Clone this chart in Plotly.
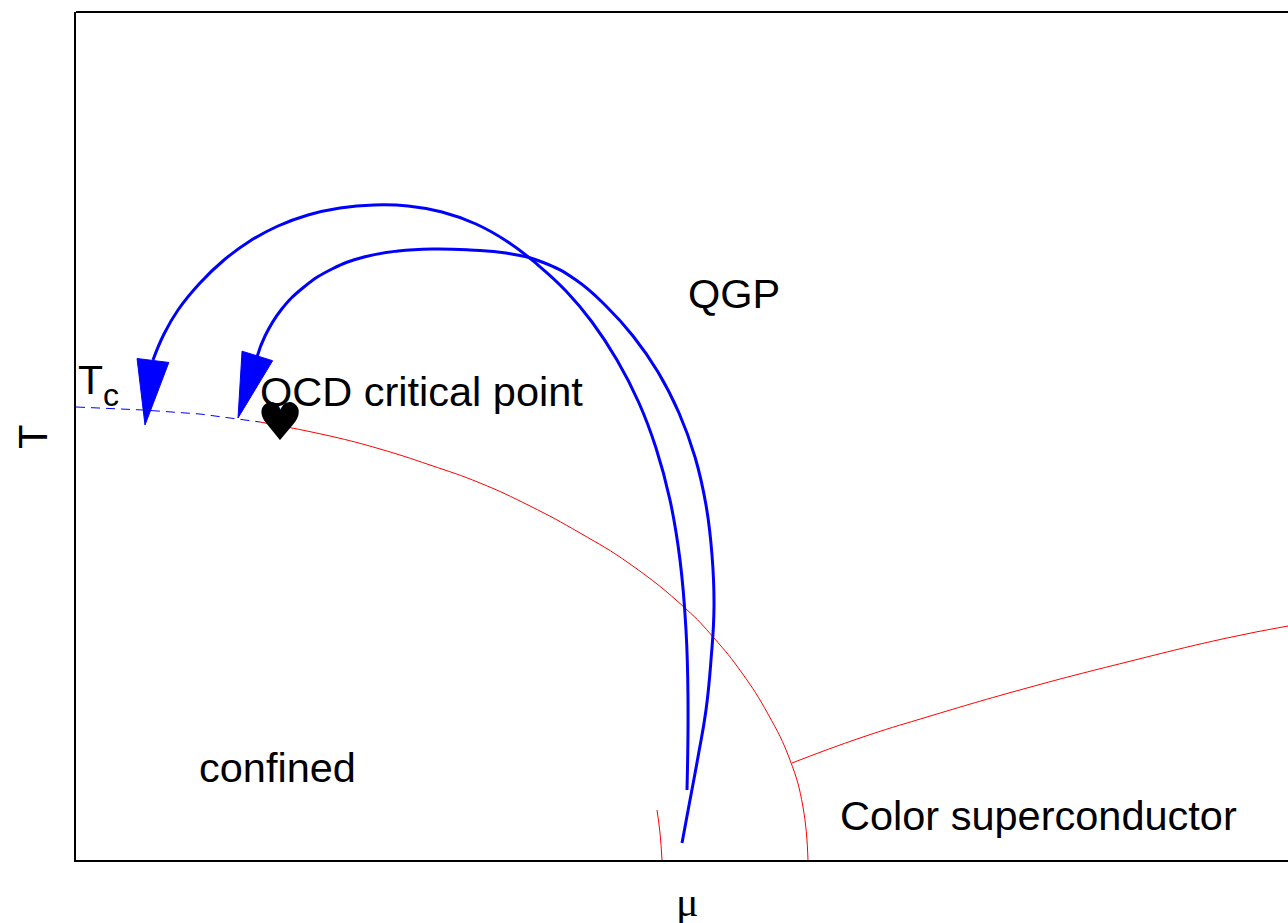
import numpy as np
import plotly.graph_objects as go

# Schematic QCD phase diagram, coordinates in arbitrary units (mu across, T up)
MU_MAX, T_MAX = 1212, 848

# Crossover line (dashed) from T_c on the T axis to the critical point
crossover_mu = [0, 67, 124, 162, 184]
crossover_T = [453, 450, 446, 441, 438]

# First-order hadron/QGP boundary from the critical point down to T = 0
boundary_mu = [184, 254, 304, 354, 404, 454, 504, 554, 609, 638, 666, 692, 714, 727, 732]
boundary_T = [438, 424, 411, 395, 377, 354, 327, 296, 252, 222, 187, 146, 100, 53, 0]

# QGP / color-superconductor boundary
csc_mu = [716, 784, 851, 951, 1051, 1151, 1212]
csc_T = [97, 122, 143, 172, 198, 222, 234]

# Short nuclear-matter segment near T = 0
nuclear_mu = [581, 584, 586]
nuclear_T = [50, 27, 0]

# Two trajectories (start at high mu, arrow toward the T axis)
traj_a_mu = [611, 612, 610, 604, 594, 580, 563, 541, 516, 490, 462, 432, 400, 366, 332,
             298, 264, 232, 202, 174, 148, 124, 102, 88, 77]
traj_a_T = [70, 160, 230, 300, 360, 412, 457, 500, 538, 569, 595, 618, 636, 648, 654,
            655, 652, 645, 634, 619, 600, 577, 550, 526, 500]
traj_a_tip = (69, 435)

traj_b_mu = [606, 614, 622, 630, 635, 638, 636, 630, 619, 603, 582, 557, 530, 500, 466,
             430, 394, 358, 322, 288, 256, 228, 205, 189, 181]
traj_b_T = [17, 60, 103, 150, 200, 253, 305, 355, 403, 447, 488, 524, 554, 580, 598,
            607, 610, 611, 609, 603, 591, 573, 550, 524, 503]
traj_b_tip = (162, 442)

critical_point = (204, 433)

BLUE = "#0000ff"
RED = "#ff0000"
TEXT_FONT = "Liberation Sans, Arial, Helvetica, sans-serif"


def arrow_head(mu, T, tip, length=65.0, half_width=16.0):
    """Filled triangle pointing from the end of a trajectory toward its tip."""
    tx, ty = tip
    d = np.array([tx - mu[-1], ty - T[-1]], dtype=float)
    d /= np.hypot(*d)
    base = np.array([tx, ty]) - length * d
    perp = np.array([-d[1], d[0]]) * half_width
    p1, p2 = base + perp, base - perp
    return [p1[0], tx, p2[0], p1[0]], [p1[1], ty, p2[1], p1[1]]


fig = go.Figure()

fig.add_trace(go.Scatter(x=crossover_mu, y=crossover_T, mode="lines",
                         line=dict(color=BLUE, width=1, dash="9px,6px")))
for mu, T in [(boundary_mu, boundary_T), (csc_mu, csc_T), (nuclear_mu, nuclear_T)]:
    fig.add_trace(go.Scatter(x=mu, y=T, mode="lines",
                             line=dict(color=RED, width=1, shape="spline", smoothing=1.3)))

for mu, T, tip in [(traj_a_mu, traj_a_T, traj_a_tip), (traj_b_mu, traj_b_T, traj_b_tip)]:
    fig.add_trace(go.Scatter(x=mu, y=T, mode="lines",
                             line=dict(color=BLUE, width=3, shape="spline", smoothing=1.3)))
    hx, hy = arrow_head(mu, T, tip)
    fig.add_trace(go.Scatter(x=hx, y=hy, mode="lines", fill="toself",
                             fillcolor=BLUE, line=dict(color=BLUE, width=1)))

fig.add_trace(go.Scatter(x=[critical_point[0]], y=[critical_point[1]], mode="text",
                         text=["\u2665"], textposition="middle center",
                         textfont=dict(family="DejaVu Sans", size=52, color="black")))

labels = [
    ("QCD critical point", 182, 469),
    ("QGP", 610, 567),
    ("confined", 121, 93),
    ("Color superconductor", 762, 45),
]
for txt, x, y in labels:
    fig.add_annotation(x=x, y=y, text=txt, showarrow=False, xanchor="left",
                       yanchor="middle", font=dict(family=TEXT_FONT, size=41.5, color="black"))

fig.add_annotation(x=0, y=480, text="T", showarrow=False, xanchor="left",
                   yanchor="middle", font=dict(family=TEXT_FONT, size=41, color="black"))
fig.add_annotation(x=25, y=465, text="c", showarrow=False, xanchor="left",
                   yanchor="middle", font=dict(family=TEXT_FONT, size=32, color="black"))

# Axis labels
fig.add_annotation(xref="paper", yref="y", x=(33 - 76) / 1212, y=T_MAX / 2 - 1,
                   text="T", textangle=-90, showarrow=False,
                   xanchor="center", yanchor="middle",
                   font=dict(family=TEXT_FONT, size=40, color="black"))
fig.add_annotation(xref="x", yref="paper", x=611, y=-42 / 848,
                   text="\u03bc", showarrow=False, xanchor="center", yanchor="middle",
                   font=dict(family="Liberation Serif, Times New Roman, serif",
                             size=42, color="black"))

# Top edge of the frame
fig.add_shape(type="line", xref="paper", yref="paper", x0=0, x1=1, y0=1, y1=1,
              line=dict(color="black", width=2))

fig.update_xaxes(range=[0, MU_MAX], showline=True, linecolor="black", linewidth=2,
                 showgrid=False, zeroline=False, showticklabels=False, ticks="")
fig.update_yaxes(range=[0, T_MAX], showline=True, linecolor="black", linewidth=2,
                 showgrid=False, zeroline=False, showticklabels=False, ticks="")

fig.update_layout(width=1288, height=923, margin=dict(l=76, r=0, t=12, b=63),
                  plot_bgcolor="white", paper_bgcolor="white", showlegend=False)

fig.write_html("out.html")
